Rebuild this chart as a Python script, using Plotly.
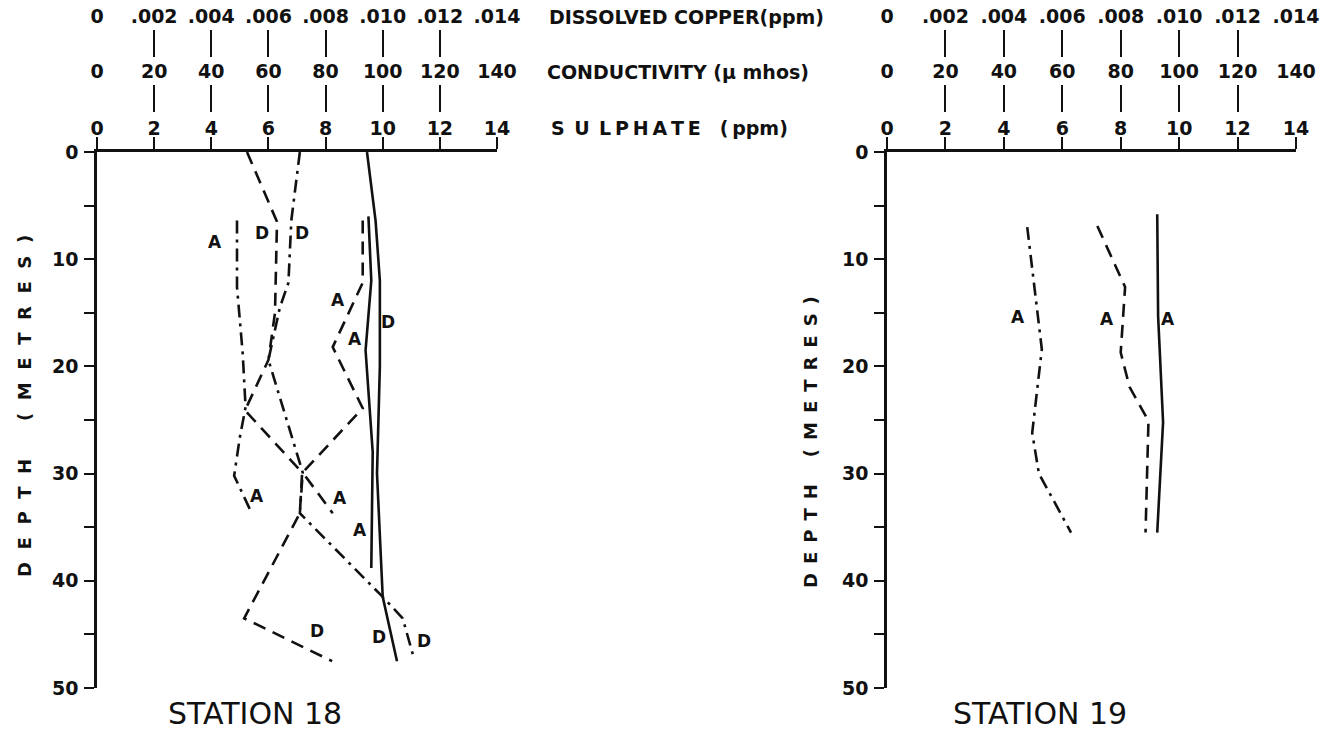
import plotly.graph_objects as go

W, H = 1321, 733

# ---------------- data ----------------
# Station 18
s18_cu_A_depth = [6.4, 12.6, 18.8, 23.8, 26.6, 30.2, 33.6]
s18_cu_A = [0.0049, 0.0049, 0.0051, 0.0052, 0.0050, 0.0048, 0.0054]
s18_cu_D_depth = [0, 6.4, 12.2, 14.5, 19.4, 29.9, 33.7, 41.5, 43.5, 47.3]
s18_cu_D = [0.0071, 0.0068, 0.0067, 0.0064, 0.0060, 0.0072, 0.0071, 0.0100, 0.0107, 0.0111]
s18_cond_A_depth = [6.4, 12.2, 18.2, 23.9, 29.9, 33.7]
s18_cond_A = [93, 93, 82.5, 93, 72, 82.5]
s18_cond_D_depth = [0, 6.5, 15, 19.4, 24.1, 29.9, 33.7, 43.5, 47.5]
s18_cond_D = [52.5, 63, 62.3, 60, 51.8, 71.8, 71, 51.5, 82.3]
s18_so4_A_depth = [6.0, 12.0, 18.5, 28.0, 38.8]
s18_so4_A = [9.5, 9.6, 9.4, 9.65, 9.6]
s18_so4_D_depth = [0, 6.4, 12, 20, 30, 41.5, 47.5]
s18_so4_D = [9.45, 9.75, 9.9, 9.9, 9.8, 10.0, 10.5]

# Station 19
s19_cu_A_depth = [7.0, 12.8, 18.4, 26.2, 30.0, 35.5]
s19_cu_A = [0.0048, 0.00505, 0.0053, 0.00497, 0.0052, 0.0063]
s19_cond_A_depth = [6.9, 12.6, 18.7, 21.9, 25.1, 35.5]
s19_cond_A = [72, 81.5, 80, 83, 89.5, 88.5]
s19_so4_A_depth = [5.8, 15.3, 25.2, 35.5]
s19_so4_A = [9.25, 9.28, 9.45, 9.25]

# tick labels
so4_ticks = [0, 2, 4, 6, 8, 10, 12, 14]
so4_text = ["0", "2", "4", "6", "8", "10", "12", "14"]
cond_ticks = [0, 20, 40, 60, 80, 100, 120, 140]
cond_text = ["0", "20", "40", "60", "80", "100", "120", "140"]
cu_ticks = [0, 0.002, 0.004, 0.006, 0.008, 0.010, 0.012, 0.014]
cu_text = ["0", ".002", ".004", ".006", ".008", ".010", ".012", ".014"]
depth_ticks = [0, 5, 10, 15, 20, 25, 30, 35, 40, 45, 50]
depth_text = ["0", "", "10", "", "20", "", "30", "", "40", "", "50"]

# curve labels (sulphate-axis units, depth)
s18_labels = [("A", 4.13, 8.4), ("D", 5.78, 7.6), ("D", 7.18, 7.6),
              ("A", 8.44, 13.8), ("A", 9.03, 17.4), ("D", 10.19, 15.9),
              ("A", 5.6, 32.1), ("A", 8.5, 32.3), ("A", 9.2, 35.3),
              ("D", 7.7, 44.7), ("D", 9.87, 45.2), ("D", 11.45, 45.6)]
s19_labels = [("A", 4.49, 15.4), ("A", 7.53, 15.6), ("A", 9.62, 15.6)]

# ---------------- styling ----------------
FONT = "DejaVu Sans"
INK = "#111111"
LW = 2.6
DASH = "13px,8px"
DASHDOT = "13px,6px,3px,6px"

def px(x):
    return x / W

def py(y):
    return 1 - y / H

dom18 = [px(97), px(497)]
dom19 = [px(887), px(1296)]
ydom = [py(688), py(152)]

fig = go.Figure()

def line(xs, ys, xa, ya, dash):
    fig.add_trace(go.Scatter(x=xs, y=ys, xaxis=xa, yaxis=ya, mode="lines",
                             line=dict(color=INK, width=LW, dash=dash),
                             showlegend=False, hoverinfo="skip"))

# station 18
line(s18_so4_A, s18_so4_A_depth, "x", "y", "solid")
line(s18_so4_D, s18_so4_D_depth, "x", "y", "solid")
line(s18_cond_A, s18_cond_A_depth, "x3", "y", DASH)
line(s18_cond_D, s18_cond_D_depth, "x3", "y", DASH)
line(s18_cu_A, s18_cu_A_depth, "x5", "y", DASHDOT)
line(s18_cu_D, s18_cu_D_depth, "x5", "y", DASHDOT)
# station 19
line(s19_so4_A, s19_so4_A_depth, "x2", "y2", "solid")
line(s19_cond_A, s19_cond_A_depth, "x4", "y2", DASH)
line(s19_cu_A, s19_cu_A_depth, "x6", "y2", DASHDOT)

tickfont = dict(family=FONT, size=19, color=INK, weight="bold")

def main_x(dom, anchor):
    return dict(domain=dom, range=[0, 14], anchor=anchor, side="top",
                tickvals=so4_ticks, ticktext=so4_text, ticks="outside",
                ticklen=12, tickwidth=2, tickcolor=INK, showline=True,
                linecolor=INK, linewidth=2.5, showgrid=False, zeroline=False,
                tickfont=tickfont, ticklabelstandoff=-5, automargin=False)

def over_x(dom, over, rng, vals, text, pos):
    return dict(domain=dom, range=rng, overlaying=over, anchor="free",
                position=pos, side="top", tickvals=vals, ticktext=text,
                ticks="inside", ticklen=27, tickwidth=2, tickcolor=INK,
                showline=False, showgrid=False, zeroline=False,
                tickfont=tickfont, ticklabelstandoff=2, automargin=False)

def main_y(dom, anchor):
    return dict(domain=dom, range=[50, 0], anchor=anchor, side="left",
                tickvals=depth_ticks, ticktext=depth_text, ticks="outside",
                ticklen=10, tickwidth=2, tickcolor=INK, showline=True,
                linecolor=INK, linewidth=2.5, showgrid=False, zeroline=False,
                tickfont=tickfont, ticklabelstandoff=2, automargin=False)

fig.update_layout(
    width=W, height=H, margin=dict(l=0, r=0, t=0, b=0, pad=0, autoexpand=False),
    paper_bgcolor="white", plot_bgcolor="rgba(0,0,0,0)",
    xaxis=main_x(dom18, "y"),
    xaxis2=main_x(dom19, "y2"),
    xaxis3=over_x(dom18, "x", [0, 140], cond_ticks, cond_text, py(84)),
    xaxis4=over_x(dom19, "x2", [0, 140], cond_ticks, cond_text, py(84)),
    xaxis5=over_x(dom18, "x", [0, 0.014], cu_ticks, cu_text, py(29)),
    xaxis6=over_x(dom19, "x2", [0, 0.014], cu_ticks, cu_text, py(29)),
    yaxis=main_y(ydom, "x"),
    yaxis2=main_y(ydom, "x2"),
)

ann = []
lblfont = dict(family=FONT, size=17, color=INK, weight="bold")
for t, xv, dv in s18_labels:
    ann.append(dict(text=t, x=xv, y=dv, xref="x", yref="y", showarrow=False,
                    font=lblfont))
for t, xv, dv in s19_labels:
    ann.append(dict(text=t, x=xv, y=dv, xref="x2", yref="y2", showarrow=False,
                    font=lblfont))

hdr = dict(family=FONT, size=19, color=INK, weight="bold")
ann.append(dict(text="DISSOLVED COPPER(ppm)", x=px(547), y=py(17), xref="paper",
                yref="paper", xanchor="left", yanchor="middle", showarrow=False, font=hdr))
ann.append(dict(text="CONDUCTIVITY (\u00b5 mhos)", x=px(545), y=py(72), xref="paper",
                yref="paper", xanchor="left", yanchor="middle", showarrow=False, font=hdr))
sulph = ("S\u2002U\u2002L\u2009P\u2009H\u2009A\u2009T\u2009E\u2002\u2002"
         "(\u2009ppm)")
ann.append(dict(text=sulph, x=px(549), y=py(128), xref="paper",
                yref="paper", xanchor="left", yanchor="middle", showarrow=False, font=hdr))

sp = "\u2002\u2009"
depth_title18 = sp.join(list("DEPTH")) + sp * 3 + sp.join(list("(METRES)"))
sp19 = "\u2002"
depth_title19 = sp19.join(list("DEPTH")) + sp19 * 3 + sp19.join(list("(METRES)"))
ann.append(dict(text=depth_title18, x=px(24), y=py(406), xref="paper", yref="paper",
                xanchor="center", yanchor="middle",
                textangle=-90, showarrow=False, font=dict(family=FONT, size=18,
                color=INK, weight="bold")))
ann.append(dict(text=depth_title19, x=px(810), y=py(442), xref="paper", yref="paper",
                xanchor="center", yanchor="middle",
                textangle=-90, showarrow=False, font=dict(family=FONT, size=18,
                color=INK, weight="bold")))

ttl = dict(family=FONT, size=30, color=INK)
ann.append(dict(text="STATION 18", x=px(255), y=py(713), xref="paper", yref="paper",
                xanchor="center", yanchor="middle", showarrow=False, font=ttl))
ann.append(dict(text="STATION 19", x=px(1040), y=py(713), xref="paper", yref="paper",
                xanchor="center", yanchor="middle", showarrow=False, font=ttl))

fig.update_layout(annotations=ann)
fig.write_html("out.html")
